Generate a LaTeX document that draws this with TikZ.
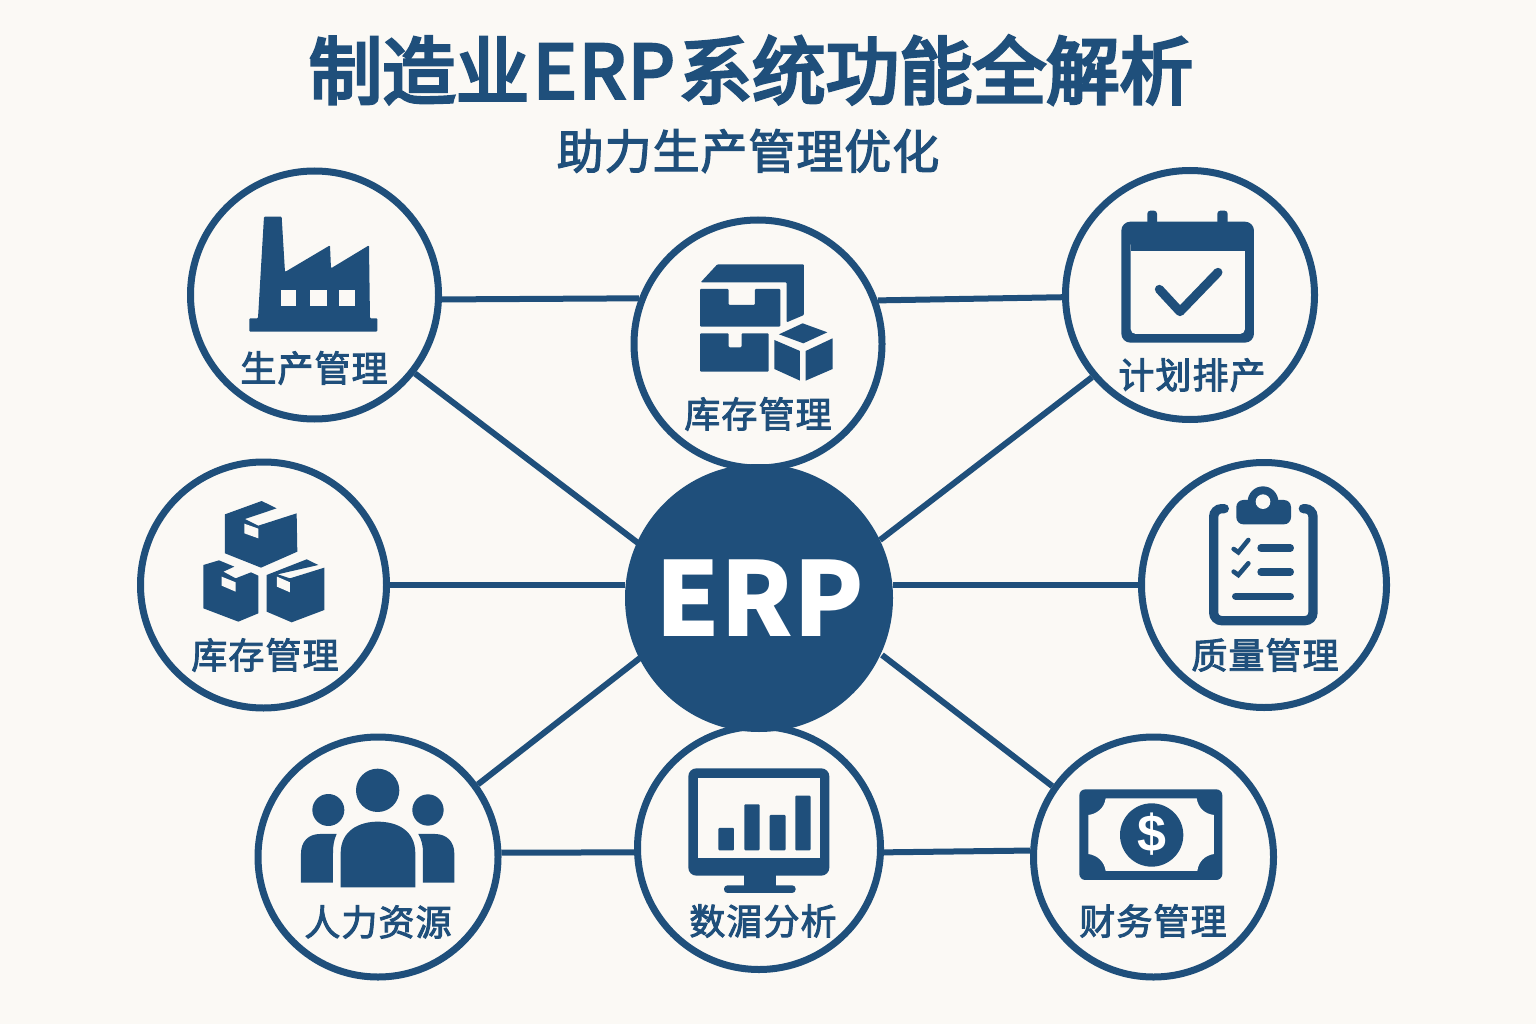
\documentclass[tikz,border=0pt]{standalone}
\usepackage{fontspec}
\newfontfamily\cjk{Noto Sans CJK SC}
\newfontfamily\cjktitle[FakeBold=4.5]{Noto Sans CJK SC}
\newfontfamily\cjklbl[FakeBold=2.6,LetterSpace=3]{Noto Sans CJK SC}
\newfontfamily\cjksub[FakeBold=2.6,LetterSpace=2]{Noto Sans CJK SC}
\newfontfamily\moneyfont{Liberation Sans}
\definecolor{bgcol}{HTML}{FBF9F5}
\definecolor{navy}{HTML}{1F4F7B}
\tikzset{
	ring/.style={circle, draw=navy, fill=bgcol, line width=7pt, minimum size=#1, inner sep=0pt},
	hub/.style={circle, fill=navy, minimum size=268pt, inner sep=0pt, text=white, font=\cjk\bfseries\fontsize{103}{110}\selectfont},
	lbl/.style={text=navy, inner sep=0pt, font=\cjklbl\fontsize{36}{40}\selectfont},
	ln/.style={draw=navy, line width=6pt},
	icon/.style={fill=navy},
	gap/.style={fill=bgcol},
	zoomed/.style={shift={#1}, x=0.3333pt, y=-0.3333pt}
}
\begin{document}
\begin{tikzpicture}[x=1pt, y=-1pt]
	\fill[bgcol] (0,0) rectangle (1536,1024);
	\useasboundingbox (0,0) rectangle (1536,1024);
	\node[text=navy, inner sep=0pt, font=\cjktitle\fontsize{73.5}{80}\selectfont] (title) at (751,70) {制造业\hspace{4pt}E\hspace{2.5pt}R\hspace{2.5pt}P\hspace{4pt}系统功能全解析};
	\node[text=navy, inner sep=0pt, font=\cjksub\fontsize{47}{50}\selectfont] (subtitle) at (748,151) {助力生产管理优化};
	% rings
	\node[ring=248pt] (prod) at (314.5,295) {};
	\node[ring=248pt] (stock) at (758,344) {};
	\node[ring=249pt] (plan) at (1190,295) {};
	\node[ring=246pt] (goods) at (263.5,585) {};
	\node[ring=245pt] (qual) at (1264,585) {};
	\node[ring=240pt] (hr) at (378,857) {};
	\node[ring=243pt] (data) at (759,848) {};
	\node[ring=240pt] (fin) at (1153.5,857) {};
	% links
	\draw[ln] (prod.358.6) -- (stock.159.3);
	\draw[ln] (stock.20.7) -- (plan.181.6);
	\draw[ln] (hr.2.3) -- (data.182.1);
	\draw[ln] (data.358.1) -- (fin.177.9);
	\draw[ln] (goods.east) -- (625,585) coordinate (hubw);
	\draw[ln] (qual.west) -- (893,585) coordinate (hube);
	\draw[ln] (prod.322) -- (638,543) coordinate (hubnw);
	\draw[ln] (plan.220) -- (880,540) coordinate (hubne);
	\draw[ln] (hr.36) -- (640,658) coordinate (hubsw);
	\draw[ln] (fin.145) -- (882,655) coordinate (hubse);
	\node[hub] (erp) at (759,598) {\hspace{2pt}ERP};
	% factory
	\begin{scope}[zoomed={(180,160)}]
		\fill[icon, rounded corners=1pt] (252,170) -- (305,170) -- (315,336) -- (450,256) -- (453,325) -- (567,256) -- (570,475) -- (592,475) -- (592,515) -- (208,515) -- (208,475) -- (234,475) -- cycle;
		\fill[gap] (302,390) rectangle (349,438);
		\fill[gap] (389,390) rectangle (440,438);
		\fill[gap] (478,390) rectangle (526,438);
	\end{scope}
	\node[lbl] (prodlbl) at (314,368) {生产管理};
	% shelf boxes
	\begin{scope}[zoomed={(630,215)}]
		\fill[icon, rounded corners=1pt] (212,202) -- (262,148) -- (522,148) -- (522,300) -- (470,322) -- (470,202) -- cycle;
		\fill[icon, rounded corners=1pt] (210,222) -- (296,222) -- (296,270) -- (375,270) -- (375,222) -- (451,222) -- (451,335) -- (210,335) -- cycle;
		\fill[icon, rounded corners=1pt] (210,355) -- (296,355) -- (296,397) -- (335,397) -- (335,355) -- (416,355) -- (416,470) -- (210,470) -- cycle;
		\fill[icon] (447,358) -- (518,325) -- (592,352) -- (520,385) -- cycle;
		\fill[icon] (433,375) -- (510,408) -- (510,497) -- (433,462) -- cycle;
		\fill[icon] (527,408) -- (608,370) -- (608,462) -- (527,497) -- cycle;
	\end{scope}
	\node[lbl] (stocklbl) at (758,414) {库存管理};
	% calendar
	\begin{scope}[zoomed={(1060,165)}]
		\fill[icon, rounded corners=3pt] (262,137) rectangle (291,180);
		\fill[icon, rounded corners=3pt] (472,137) rectangle (503,180);
		\fill[icon, rounded corners=9pt] (184,170) rectangle (582,533);
		\fill[gap, rounded corners=5pt] (212,225) rectangle (555,507);
		\fill[icon] (212,220) rectangle (555,257);
		\draw[navy, line width=9pt, line cap=round, line join=round] (298,373) -- (360,440) -- (474,322);
	\end{scope}
	\node[lbl] (planlbl) at (1192,375) {计划排产};
	% boxes
	\begin{scope}[zoomed={(195,495)}]
		\fill[icon] (90,58) -- (200,18) -- (245,40) -- (150,72) -- (190,92) -- (305,55) -- (307,170) -- (198,218) -- (90,175) -- cycle;
		\fill[gap] (148,86) -- (190,101) -- (190,130) -- (148,115) -- cycle;
		\fill[icon] (25,210) -- (72,196) -- (118,215) -- (85,230) -- (122,250) -- (168,232) -- (190,242) -- (190,355) -- (130,380) -- (25,340) -- cycle;
		\fill[gap] (80,245) -- (122,262) -- (122,290) -- (80,272) -- cycle;
		\fill[icon] (215,240) -- (335,193) -- (370,210) -- (248,238) -- (285,250) -- (388,218) -- (388,345) -- (290,382) -- (215,350) -- cycle;
		\fill[gap] (246,245) -- (285,262) -- (285,292) -- (246,275) -- cycle;
	\end{scope}
	\node[lbl] (goodslbl) at (265,655) {库存管理};
	% clipboard
	\begin{scope}[zoomed={(1135,455)}]
		\draw[navy, line width=9.3pt, line cap=round, rounded corners=8pt] (268,161) -- (236,161) -- (236,497) -- (534,497) -- (534,161) -- (505,161);
		\fill[icon, rounded corners=7pt] (304,135) rectangle (468,208);
		\fill[icon] (384,140) circle (46);
		\fill[gap] (384,140) circle (22);
		\draw[navy, line width=4.6pt, line cap=round] (296,282) -- (310,292) -- (340,255);
		\draw[navy, line width=4.6pt, line cap=round] (296,350) -- (310,360) -- (340,325);
		\draw[navy, line width=7.3pt, line cap=round] (378,279) -- (466,279);
		\draw[navy, line width=7.3pt, line cap=round] (378,351) -- (466,351);
		\draw[navy, line width=7.3pt, line cap=round] (302,424) -- (466,424);
	\end{scope}
	\node[lbl] (quallbl) at (1265,655) {质量管理};
	% people
	\begin{scope}[zoomed={(250,730)}]
		\fill[icon] (383,181) circle (65);
		\fill[icon] (235,240) circle (48);
		\fill[icon] (534,240) circle (47);
		\fill[icon] (272,472) -- (272,370) .. controls (272,300) and (330,275) .. (383,275) .. controls (440,275) and (496,300) .. (496,370) -- (496,472) -- cycle;
		\fill[icon] (153,458) -- (153,370) .. controls (153,335) and (175,312) .. (210,312) -- (260,312) .. controls (252,330) and (249,345) .. (249,370) -- (249,458) -- cycle;
		\fill[icon] (505,312) -- (555,312) .. controls (590,312) and (613,335) .. (613,370) -- (613,458) -- (519,458) -- (519,370) .. controls (519,345) and (515,330) .. (505,312) -- cycle;
	\end{scope}
	\node[lbl] (hrlbl) at (378,922) {人力资源};
	% monitor
	\begin{scope}[zoomed={(630,730)}]
		\fill[icon, rounded corners=8pt] (175,115) rectangle (598,437);
		\fill[gap] (203,143) rectangle (571,385);
		\fill[icon] (343,430) rectangle (438,470);
		\fill[icon, rounded corners=3.5pt] (282,466) rectangle (497,489);
		\fill[icon, rounded corners=1pt] (265,294) rectangle (312,361);
		\fill[icon, rounded corners=1pt] (343,223) rectangle (389,361);
		\fill[icon, rounded corners=1pt] (419,255) rectangle (467,361);
		\fill[icon, rounded corners=1pt] (496,197) rectangle (542,361);
	\end{scope}
	\node[lbl] (datalbl) at (763,921) {数湄分析};
	% banknote
	\begin{scope}[zoomed={(1025,730)}]
		\fill[icon, rounded corners=6pt] (163,178) rectangle (592,450);
		\fill[gap] (242,205) -- (515,205) .. controls (520,235) and (540,252) .. (567,255) -- (567,372) .. controls (540,376) and (520,395) .. (517,423) -- (242,423) .. controls (238,395) and (218,376) .. (190,372) -- (190,255) .. controls (215,252) and (238,235) .. (242,205) -- cycle;
		\fill[icon] (380,315) circle (95);
		\node[text=white, inner sep=0pt, font=\moneyfont\bfseries\fontsize{52}{54}\selectfont] (dollar) at (380,312) {\$};
	\end{scope}
	\node[lbl] (finlbl) at (1153,921) {财务管理};
\end{tikzpicture}
\end{document}
